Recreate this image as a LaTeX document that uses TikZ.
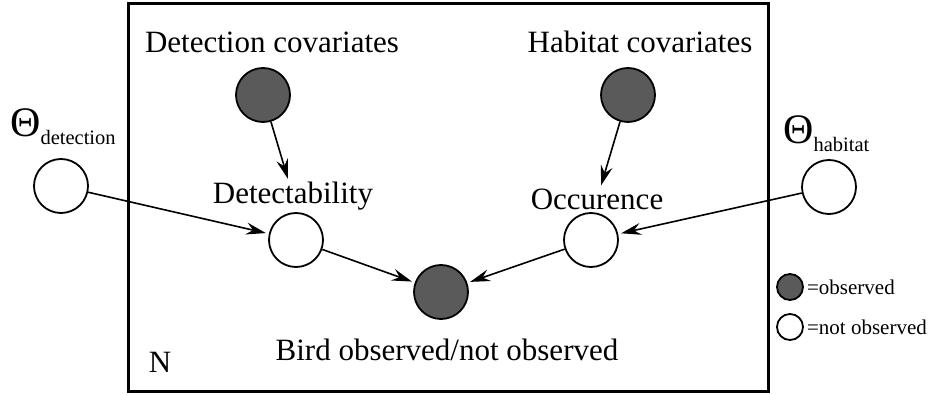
\documentclass[tikz,border=0pt]{standalone}
\usepackage{fontspec}
\setmainfont{Liberation Serif}
\usetikzlibrary{positioning, arrows.meta}
\definecolor{obsgray}{HTML}{5A5A5A}
\newcommand\thetalab[1]{{\fontsize{42}{42}\selectfont Θ}\raisebox{-8pt}{\fontsize{20.5}{20.5}\selectfont #1}}

\begin{document}
\begin{tikzpicture}[x=1pt, y=-1pt,
    obs/.style={circle, draw, line width=1.8pt, fill=obsgray, minimum size=54pt, inner sep=0pt},
    latent/.style={obs, fill=white},
    lab/.style={font=\fontsize{31}{31}\selectfont, inner sep=0pt},
    leglab/.style={font=\fontsize{21}{21}\selectfont, inner sep=0pt},
    link/.style={-{Stealth[length=20pt, width=12pt, inset=7pt]}, line width=1.6pt, shorten >=3pt}]
  \useasboundingbox (0,0) rectangle (930,395);
  % plate
  \draw[line width=3pt] (128,4) rectangle (768,392);
  \node[lab] (plate) at (160,362) {N};
  % covariates
  \node[lab] (detcovlab) at (272,42) {Detection covariates};
  \node[obs] (detcov) at (263,95) {};
  \node[lab] (habcovlab) at (640,42) {Habitat covariates};
  \node[obs] (habcov) at (628,95) {};
  % latent states
  \node[lab] (detlab) at (293,196) {Detectability};
  \node[latent] (det) at (296,240) {};
  \node[lab] (occlab) at (597,199) {Occurence};
  \node[latent] (occ) at (591,240) {};
  % data
  \node[obs] (bird) at (441,292) {};
  \node[lab] (birdlab) at (447,350) {Bird observed/not observed};
  % parameters
  \node[anchor=base west, inner sep=0pt] (thdlab) at (10,137) {\thetalab{detection}};
  \node[latent] (thd) at (61,186) {};
  \node[anchor=base west, inner sep=0pt] (thhlab) at (783,144) {\thetalab{habitat}};
  \node[latent] (thh) at (829,187) {};
  % legend
  \node[obs, minimum size=26pt] (legobs) at (790,287) {};
  \node[leglab, right=3pt of legobs] (legobslab) {=observed};
  \node[latent, minimum size=26pt] (leglat) at (790,327) {};
  \node[leglab, right=3pt of leglat] (leglatlab) {=not observed};
  % arrows
  \draw[link] (detcov) -- (detlab);
  \draw[link] (habcov) -- (occlab);
  \draw[link] (thd) -- (det);
  \draw[link] (thh) -- (occ);
  \draw[link] (det) -- (bird);
  \draw[link] (occ) -- (bird);
\end{tikzpicture}
\end{document}
